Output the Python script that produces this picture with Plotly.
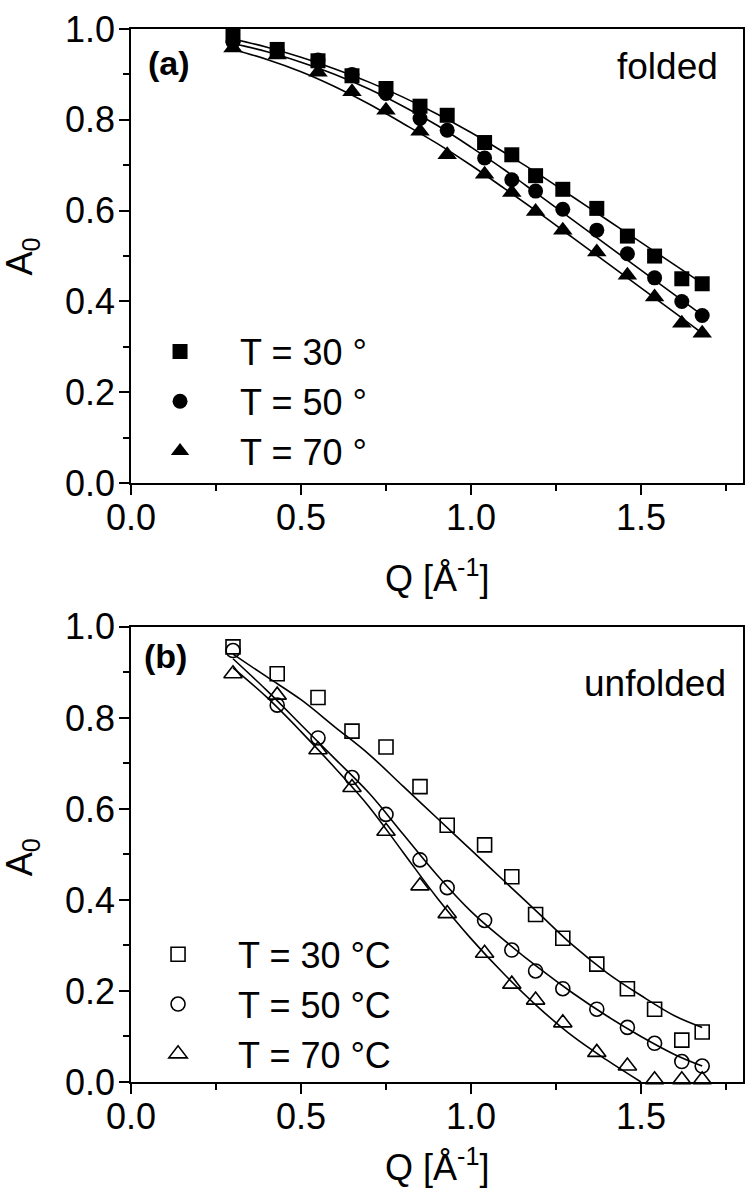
import plotly.graph_objects as go

FONT = "Liberation Sans, Arial, sans-serif"

# ---------------- data: panel (a) folded ----------------
q_a = [0.30, 0.43, 0.55, 0.65, 0.75, 0.85, 0.93, 1.04, 1.12, 1.19, 1.27, 1.37, 1.46, 1.54, 1.62, 1.68]
a_fold_30 = [0.985, 0.955, 0.930, 0.897, 0.869, 0.830, 0.810, 0.750, 0.723, 0.677, 0.647, 0.605, 0.544, 0.500, 0.450, 0.439]
a_fold_50 = [0.972, 0.953, 0.932, 0.900, 0.858, 0.803, 0.777, 0.716, 0.668, 0.643, 0.603, 0.557, 0.505, 0.452, 0.400, 0.369]
a_fold_70 = [0.958, 0.943, 0.905, 0.862, 0.821, 0.775, 0.723, 0.680, 0.640, 0.598, 0.557, 0.509, 0.458, 0.410, 0.352, 0.330]

fit_q = [0.30, 0.40, 0.50, 0.60, 0.70, 0.80, 0.90, 1.00, 1.10, 1.20, 1.30, 1.40, 1.50, 1.60, 1.68]
fit_fold_30 = [0.978, 0.960, 0.938, 0.912, 0.883, 0.850, 0.813, 0.772, 0.727, 0.680, 0.630, 0.580, 0.530, 0.480, 0.440]
fit_fold_50 = [0.968, 0.950, 0.927, 0.900, 0.868, 0.830, 0.788, 0.740, 0.689, 0.634, 0.579, 0.524, 0.469, 0.414, 0.370]
fit_fold_70 = [0.955, 0.933, 0.906, 0.873, 0.835, 0.792, 0.748, 0.700, 0.648, 0.595, 0.540, 0.485, 0.430, 0.375, 0.330]

# ---------------- data: panel (b) unfolded ----------------
q_b = [0.30, 0.43, 0.55, 0.65, 0.75, 0.85, 0.93, 1.04, 1.12, 1.19, 1.27, 1.37, 1.46, 1.54, 1.62, 1.68]
a_unf_30 = [0.956, 0.897, 0.845, 0.771, 0.736, 0.649, 0.564, 0.521, 0.451, 0.368, 0.316, 0.259, 0.205, 0.160, 0.092, 0.110]
a_unf_50 = [0.948, 0.828, 0.756, 0.669, 0.588, 0.488, 0.427, 0.355, 0.290, 0.244, 0.205, 0.160, 0.120, 0.085, 0.045, 0.035]
a_unf_70 = [0.897, 0.850, 0.730, 0.647, 0.551, 0.431, 0.370, 0.283, 0.215, 0.180, 0.130, 0.065, 0.035, 0.005, 0.005, 0.005]

fit_unf_30 = [0.940, 0.890, 0.840, 0.780, 0.720, 0.650, 0.580, 0.510, 0.440, 0.370, 0.300, 0.240, 0.190, 0.145, 0.120]
fit_unf_50 = [0.930, 0.860, 0.785, 0.710, 0.635, 0.545, 0.455, 0.375, 0.310, 0.250, 0.195, 0.145, 0.100, 0.060, 0.035]
fit_q_70 = [0.30, 0.40, 0.50, 0.60, 0.70, 0.80, 0.90, 1.00, 1.10, 1.20, 1.30, 1.40, 1.50]
fit_unf_70 = [0.910, 0.845, 0.770, 0.690, 0.605, 0.505, 0.405, 0.315, 0.235, 0.163, 0.100, 0.048, 0.000]

labels_a = ["T = 30 °", "T = 50 °", "T = 70 °"]
labels_b = ["T = 30 °C", "T = 50 °C", "T = 70 °C"]

fig = go.Figure()

LINE = dict(color="black", width=1.6)

# fit lines (no legend)
for ys in (fit_fold_30, fit_fold_50, fit_fold_70):
    fig.add_trace(go.Scatter(x=fit_q, y=ys, mode="lines", line=dict(**LINE, shape="spline"),
                             showlegend=False, xaxis="x", yaxis="y", hoverinfo="skip"))
for xs, ys in ((fit_q, fit_unf_30), (fit_q, fit_unf_50), (fit_q_70, fit_unf_70)):
    fig.add_trace(go.Scatter(x=xs, y=ys, mode="lines", line=dict(**LINE, shape="spline"),
                             showlegend=False, xaxis="x2", yaxis="y2", hoverinfo="skip"))

# markers panel (a)
sym_a = ["square", "circle", "triangle-up"]
size_a = [15, 15, 17]
for i, ys in enumerate((a_fold_30, a_fold_50, a_fold_70)):
    fig.add_trace(go.Scatter(x=q_a, y=ys, mode="markers", name=labels_a[i],
                             marker=dict(symbol=sym_a[i], size=size_a[i], color="black",
                                         line=dict(width=0)),
                             cliponaxis=False, xaxis="x", yaxis="y",
                             legend="legend", legendgroup=f"a{i}"))

# markers panel (b)
sym_b = ["square-open", "circle-open", "triangle-up-open"]
size_b = [14, 14, 16]
for i, ys in enumerate((a_unf_30, a_unf_50, a_unf_70)):
    fig.add_trace(go.Scatter(x=q_b, y=ys, mode="markers", name=labels_b[i],
                             marker=dict(symbol=sym_b[i], size=size_b[i], color="black",
                                         line=dict(width=1.6, color="black")),
                             cliponaxis=False, xaxis="x2", yaxis="y2",
                             legend="legend2", legendgroup=f"b{i}"))

axis_common = dict(
    showgrid=False, zeroline=False, showline=True, linecolor="black", linewidth=1.6,
    mirror=True, ticks="outside", ticklen=10, tickwidth=1.5, tickcolor="black",
    tickfont=dict(family=FONT, size=36, color="black"),
)
xa = dict(axis_common, range=[0, 1.8], tick0=0, dtick=0.5, tickformat=".1f", ticklabelstandoff=-8,
          minor=dict(ticks="outside", ticklen=6, tickwidth=1.5, tickcolor="black", dtick=0.25, tick0=0))
ya = dict(axis_common, range=[0, 1.0], tick0=0, dtick=0.2, tickformat=".1f", ticklabelstandoff=-3,
          minor=dict(ticks="outside", ticklen=6, tickwidth=1.5, tickcolor="black", dtick=0.1, tick0=0))

H_TOP, H_BOT = 20, 117
PH = 1199 - H_TOP - H_BOT


def py(pix):
    return (1082 - pix) / PH


def px(pix):
    return (pix - 131) / 614


LEG = dict(xanchor="left", yanchor="top", bgcolor="rgba(0,0,0,0)",
           font=dict(family=FONT, size=36, color="black"),
           tracegroupgap=0, itemwidth=110, traceorder="grouped")

fig.update_layout(
    width=754, height=1199,
    margin=dict(l=131, r=9, t=H_TOP, b=H_BOT),
    paper_bgcolor="white", plot_bgcolor="white",
    font=dict(family=FONT, color="black"),
    xaxis=dict(xa, domain=[0, 1], anchor="y"),
    yaxis=dict(ya, domain=[py(478), 1.0], anchor="x"),
    xaxis2=dict(xa, domain=[0, 1], anchor="y2"),
    yaxis2=dict(ya, domain=[0, py(623)], anchor="x2"),
    legend=dict(LEG, x=px(120), y=py(315)),
    legend2=dict(LEG, x=px(118), y=py(923)),
    showlegend=True,
)

ann = [
    dict(text="<b>(a)</b>", x=px(146), y=py(54), xanchor="left", yanchor="middle", size=34),
    dict(text="folded", x=px(722), y=py(58), xanchor="right", yanchor="middle", size=37),
    dict(text="<b>(b)</b>", x=px(142), y=py(652), xanchor="left", yanchor="middle", size=34),
    dict(text="unfolded", x=px(730), y=py(680), xanchor="right", yanchor="middle", size=37),
    dict(text="Q [Å<sup>-1</sup>]", x=0.5, y=py(572), xanchor="center", yanchor="middle", size=36),
    dict(text="Q [Å<sup>-1</sup>]", x=0.5, y=py(1166), xanchor="center", yanchor="middle", size=36),
]
for a in ann:
    fig.add_annotation(text=a["text"], x=a["x"], y=a["y"], xref="paper", yref="paper",
                       xanchor=a["xanchor"], yanchor=a["yanchor"], showarrow=False,
                       font=dict(family=FONT, size=a["size"], color="black"))
for yc in (249, 855):
    fig.add_annotation(text="A<sub>0</sub>", x=px(22), y=py(yc), xref="paper", yref="paper",
                       xanchor="center", yanchor="middle", textangle=-90, showarrow=False,
                       font=dict(family=FONT, size=36, color="black"))

fig.write_html("out.html", config={"displayModeBar": False},
               post_script="document.body.style.margin='0px';")
